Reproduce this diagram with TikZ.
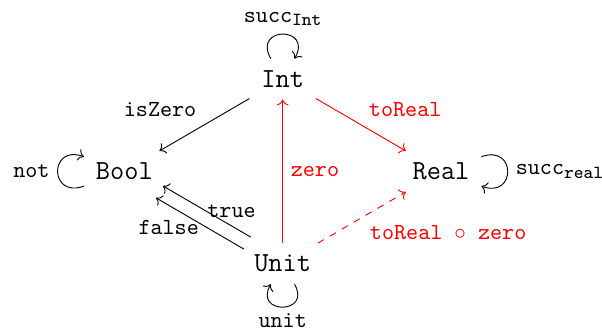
\documentclass[tikz,border=0pt]{standalone}
\usepackage{tikz}
\usetikzlibrary{arrows.meta}
\newcommand{\subtt}[2]{#1\raisebox{-1.5pt}{\footnotesize #2}}

\begin{document}
\begin{tikzpicture}[
  type/.style={font=\large\ttfamily, inner sep=5pt},
  lbl/.style={font=\ttfamily},
  map/.style={-{To}},
]
  \useasboundingbox (0,0) rectangle (9.20,5.06);

  % Types
  \node[type] (int)  at (4.32, 3.85) {Int};
  \node[type] (bool) at (1.90, 2.44) {Bool};
  \node[type] (real) at (6.74, 2.44) {Real};
  \node[type] (unit) at (4.32, 1.03) {Unit};

  % Maps between types
  \draw[map] (int) -- node[lbl, above left] {isZero} (bool);
  \draw[map, red] (int) -- node[lbl, above right] {toReal} (real);
  \draw[map, red] (unit) -- node[lbl, right] {zero} (int);
  \draw[map, red, dashed] (unit) -- node[lbl, below right] {toReal $\circ$ zero} (real);
  \draw[map, transform canvas={shift={(1.5pt,2.6pt)}}] (unit) -- node[lbl, above, pos=0.22] {true} (bool);
  \draw[map, transform canvas={shift={(-1.5pt,-2.6pt)}}] (unit) -- node[lbl, left, pos=0.42] {false} (bool);

  % Endomaps
  \draw[map] (int.120) to[out=120, in=60, looseness=4.1] node[lbl, above] {\subtt{succ}{Int}} (int.60);
  \draw[map] (bool.200) to[out=200, in=160, looseness=3.25] node[lbl, left] {not} (bool.160);
  \draw[map] (real.20) to[out=20, in=-20, looseness=3.25] node[lbl, right] {\subtt{succ}{real}} (real.-20);
  \draw[map] (unit.-60) to[out=-60, in=-120, looseness=3.8] node[lbl, below, inner sep=2.5pt] {unit} (unit.-120);
\end{tikzpicture}
\end{document}
